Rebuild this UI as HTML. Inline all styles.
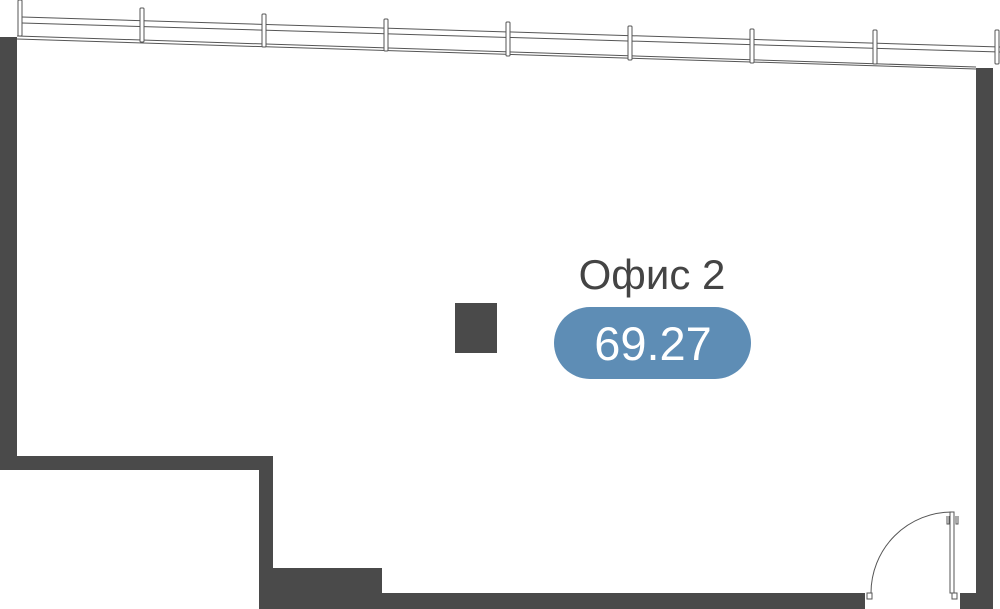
<!DOCTYPE html><html><head><style>body{margin:0;background:#fff}svg{display:block}</style></head><body>
<svg width="1000" height="609" viewBox="0 0 1000 609" xmlns="http://www.w3.org/2000/svg">
<g fill="#4a4a4a">
<rect x="0" y="37" width="17" height="433"/>
<rect x="0" y="456" width="273" height="14"/>
<rect x="259" y="456" width="14" height="153"/>
<rect x="259" y="593" width="606" height="16"/>
<rect x="273" y="568" width="109" height="26"/>
<rect x="976" y="68" width="17" height="541"/>
<rect x="960" y="593" width="33" height="16"/>
<rect x="455" y="303" width="42" height="50"/>
</g>
<g stroke="#555" stroke-width="1" fill="none">
<line x1="22" y1="17" x2="1000" y2="47"/>
<line x1="22" y1="23" x2="1000" y2="52"/>
<line x1="17" y1="36" x2="976" y2="67"/>
<line x1="17" y1="39" x2="976" y2="69"/>
<path d="M871 593 A81 81 0 0 1 952 512"/>
<rect x="950" y="512" width="4" height="81"/>
<rect x="867" y="593" width="5" height="6"/>
<rect x="952" y="593" width="5" height="6"/>
<path d="M947 516v8h2v-8M956 516v8h2v-8"/>
</g>
<g stroke="#555" stroke-width="1" fill="#fff">
<rect x="18" y="0" width="4" height="36" rx="1"/>
<rect x="140" y="8" width="4" height="34" rx="1"/>
<rect x="262" y="14" width="4" height="33" rx="1"/>
<rect x="384" y="19" width="4" height="32" rx="1"/>
<rect x="506" y="22" width="4" height="34" rx="1"/>
<rect x="628" y="26" width="4" height="34" rx="1"/>
<rect x="750" y="29" width="4" height="34" rx="1"/>
<rect x="873" y="30" width="4" height="34" rx="1"/>
<rect x="995" y="30" width="4" height="34" rx="1"/>
</g>
<text x="652" y="289" text-anchor="middle" font-family="Liberation Sans, sans-serif" font-size="42" fill="#444">Офис 2</text>
<rect x="554" y="307" width="197" height="72" rx="36" fill="#5e8db5"/>
<text x="653" y="360" text-anchor="middle" font-family="Liberation Sans, sans-serif" font-size="47" fill="#fff">69.27</text>
</svg>
</body></html>
